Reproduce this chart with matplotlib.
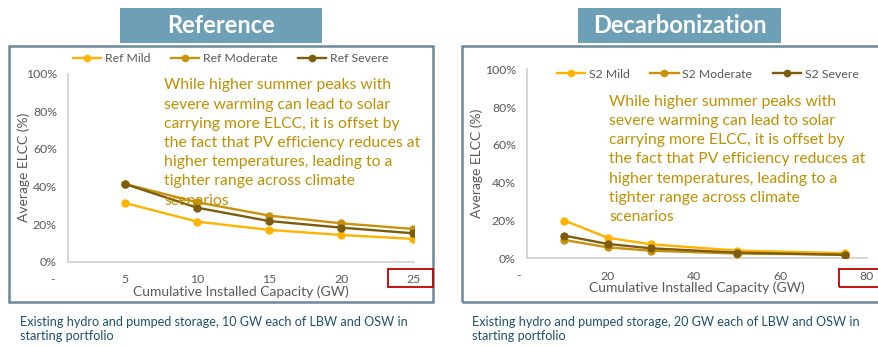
import matplotlib.pyplot as plt
from matplotlib.patches import Rectangle
import matplotlib.transforms as mtransforms

plt.rcParams['font.family'] = ['Lato', 'DejaVu Sans']

W, H = 879, 346

# Reference portfolio: solar ELCC by climate scenario
ref_capacity = [5, 10, 15, 20, 25]
ref_mild = [0.312, 0.213, 0.169, 0.142, 0.121]
ref_moderate = [0.413, 0.316, 0.245, 0.204, 0.174]
ref_severe = [0.413, 0.287, 0.216, 0.181, 0.151]
ref_xticks = [5, 10, 15, 20, 25]

# Decarbonization portfolio
dec_capacity = [10, 20, 30, 50, 75]
dec_mild = [0.200, 0.109, 0.074, 0.041, 0.027]
dec_moderate = [0.097, 0.058, 0.040, 0.025, 0.020]
dec_severe = [0.120, 0.076, 0.053, 0.030, 0.018]
dec_xticks = [20, 40, 60, 80]

yticks = [0, 0.2, 0.4, 0.6, 0.8, 1.0]
scenario_names = ['Mild', 'Moderate', 'Severe']
colors = ['#FFB300', '#C8920F', '#7D5C0C']

note = ('While higher summer peaks with\nsevere warming can lead to solar\n'
        'carrying more ELCC, it is offset by\nthe fact that PV efficiency reduces at\n'
        'higher temperatures, leading to a\ntighter range across climate\nscenarios')
subtitles = ['Existing hydro and pumped storage, 10 GW each of LBW and OSW in\nstarting portfolio',
             'Existing hydro and pumped storage, 20 GW each of LBW and OSW in\nstarting portfolio']

GRAY = '#595959'
FRAME = '#6A8898'
HEADER = '#6D9FB7'
NOTE = '#BF9000'
SUB = '#1F5070'


def px_rect(x0, y0, x1, y1):
    """pixel box (top-left origin) -> figure fraction [l, b, w, h]"""
    return [x0 / W, 1 - y1 / H, (x1 - x0) / W, (y1 - y0) / H]


def add_box(fig, x0, y0, x1, y1, **kw):
    l, b, w, h = px_rect(x0, y0, x1, y1)
    fig.patches.append(Rectangle((l, b), w, h, transform=fig.transFigure, **kw))


def draw_panel(fig, rect, xlim, capacity, series, prefix, xticks, dash_x, ylabel_pad):
    ax = fig.add_axes(rect)
    for vals, name, c in zip(series, scenario_names, colors):
        ax.plot(capacity, vals, color=c, lw=1.7, marker='o', ms=5,
                label=f'{prefix} {name}', zorder=3)
    ax.set_xlim(*xlim)
    ax.set_ylim(0, 1)
    ax.set_yticks(yticks)
    ax.set_yticklabels([f'{int(round(v * 100))}%' for v in yticks])
    ax.set_xticks(xticks)
    ax.set_xticklabels([str(v) for v in xticks])
    ax.tick_params(length=0, labelsize=8.8, labelcolor=GRAY, pad=8)
    ax.tick_params(axis='x', pad=9)
    for s in ['top', 'right']:
        ax.spines[s].set_visible(False)
    for s in ['left', 'bottom']:
        ax.spines[s].set_color('#D0D0D0')
        ax.spines[s].set_linewidth(1.2)
    ax.patch.set_alpha(0)
    # category-style "-" label for zero
    trans = mtransforms.blended_transform_factory(ax.transData, ax.transAxes)
    ax.text(dash_x, -0.094, '-', transform=trans, ha='center', va='center',
            fontsize=8.8, color=GRAY, clip_on=False)
    ax.set_xlabel('Cumulative Installed Capacity (GW)', fontsize=10, color=GRAY, labelpad=0)
    ax.set_ylabel('Average ELCC (%)', fontsize=10, color=GRAY, labelpad=ylabel_pad)
    return ax


def add_legend(ax, x_left, y):
    ax.legend(loc='center left', bbox_to_anchor=(x_left / W, 1 - y / H),
              bbox_transform=ax.figure.transFigure, ncol=3, frameon=False,
              fontsize=8.8, labelcolor=GRAY, handlelength=2.3, borderpad=0,
              borderaxespad=0, handletextpad=0.3, columnspacing=1.7, markerscale=0.9)


fig = plt.figure(figsize=(W / 100, H / 100), dpi=100)

# panel frames and headers
add_box(fig, 9, 46, 433, 302, fill=False, edgecolor=FRAME, lw=1.8)
add_box(fig, 462, 46, 890, 302, fill=False, edgecolor=FRAME, lw=1.8)
add_box(fig, 120, 8, 322, 43, facecolor=HEADER, edgecolor='none')
add_box(fig, 578, 8, 781, 43, facecolor=HEADER, edgecolor='none')
fig.text(221 / W, 1 - 25.5 / H, 'Reference', ha='center', va='center',
         fontsize=17, fontweight='bold', color='white')
fig.text(680 / W, 1 - 25.5 / H, 'Decarbonization', ha='center', va='center',
         fontsize=17, fontweight='bold', color='white')

ax1 = draw_panel(fig, px_rect(68, 73.5, 414, 261.7), (1.05, 25.05), ref_capacity,
                 [ref_mild, ref_moderate, ref_severe], 'Ref', ref_xticks, 0, -3)
ax2 = draw_panel(fig, px_rect(527, 69.3, 867, 258.3), (1.38, 79.9), dec_capacity,
                 [dec_mild, dec_moderate, dec_severe], 'S2', dec_xticks, -0.5, 1)

add_legend(ax1, 73, 59)
add_legend(ax2, 557, 74)

fig.text(164 / W, 1 - 143 / H, note, ha='left', va='center', fontsize=11.3,
         color=NOTE, linespacing=1.47, zorder=5)
fig.text(609 / W, 1 - 159.5 / H, note, ha='left', va='center', fontsize=11.3,
         color=NOTE, linespacing=1.47, zorder=5)

# highlight on the last capacity label
add_box(fig, 388, 269, 433, 287, fill=False, edgecolor='#C00000', lw=1.3)
add_box(fig, 839, 269, 890, 287, fill=False, edgecolor='#C00000', lw=1.3)

fig.text(20 / W, 1 - 329 / H, subtitles[0], ha='left', va='center', fontsize=9.1,
         color=SUB, linespacing=1.3)
fig.text(472 / W, 1 - 329 / H, subtitles[1], ha='left', va='center', fontsize=9.1,
         color=SUB, linespacing=1.3)

fig.savefig('out.png', dpi=100)
